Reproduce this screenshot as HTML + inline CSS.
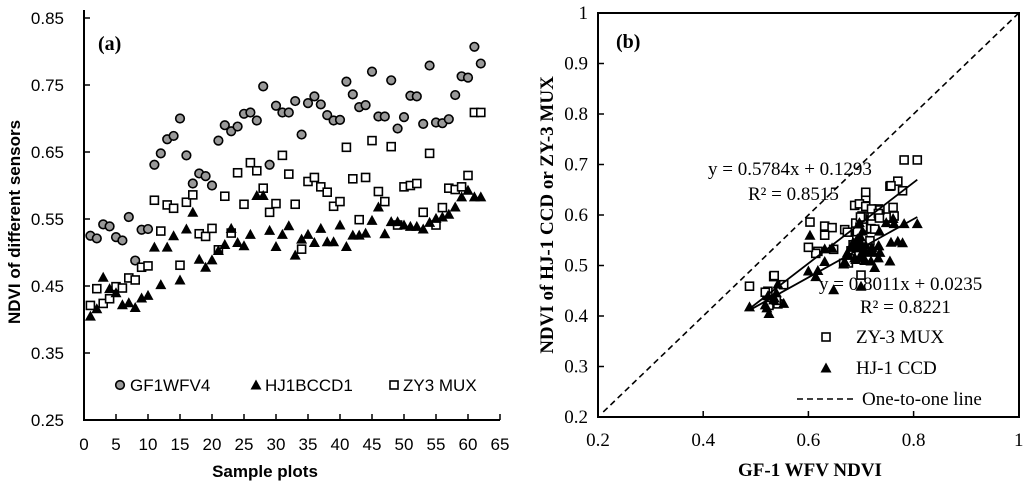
<!DOCTYPE html>
<html><head><meta charset="utf-8"><style>
body{margin:0;background:#fff;}
svg{display:block;}
.sans{font-family:"Liberation Sans",Arial,sans-serif;}
.serif{font-family:"Liberation Serif","Times New Roman",serif;}
</style></head><body>
<svg id="fig" width="1024" height="484" viewBox="0 0 1024 484" xmlns="http://www.w3.org/2000/svg">
<g id="pa"></g>
<g id="pb"></g>
</svg>
<script>
const plots = Array.from({length:62},(_,i)=>i+1);
const gf1 = [0.525,0.521,0.542,0.539,0.523,0.518,0.553,0.488,0.534,0.535,0.631,0.648,0.669,0.674,0.700,0.645,0.603,0.618,0.614,0.600,0.667,0.690,0.681,0.688,0.707,0.709,0.697,0.748,0.631,0.719,0.709,0.709,0.726,0.676,0.723,0.733,0.721,0.705,0.697,0.698,0.755,0.736,0.717,0.720,0.770,0.703,0.703,0.757,0.685,0.702,0.734,0.733,0.692,0.779,0.694,0.693,0.699,0.735,0.763,0.761,0.807,0.782];
const zy3 = [0.421,0.446,0.424,0.431,0.449,0.447,0.462,0.459,0.478,0.480,0.578,0.532,0.571,0.566,0.481,0.575,0.586,0.528,0.524,0.536,0.504,0.584,0.529,0.619,0.572,0.634,0.622,0.596,0.560,0.573,0.645,0.617,0.572,0.505,0.606,0.612,0.598,0.590,0.569,0.576,0.657,0.610,0.549,0.612,0.667,0.591,0.576,0.658,0.541,0.598,0.600,0.603,0.560,0.648,0.541,0.567,0.596,0.594,0.598,0.615,0.709,0.709];
const hj1 = [0.405,0.416,0.463,0.446,0.440,0.422,0.425,0.418,0.432,0.436,0.508,0.452,0.508,0.525,0.459,0.535,0.560,0.490,0.478,0.489,0.503,0.512,0.536,0.515,0.510,0.527,0.585,0.585,0.533,0.509,0.527,0.540,0.496,0.520,0.527,0.515,0.536,0.516,0.516,0.541,0.509,0.526,0.526,0.529,0.548,0.568,0.528,0.546,0.546,0.541,0.539,0.539,0.535,0.545,0.551,0.553,0.557,0.568,0.583,0.593,0.583,0.583];
const xTicksA = [0,5,10,15,20,25,30,35,40,45,50,55,60,65];
const yTicksA = [0.25,0.35,0.45,0.55,0.65,0.75,0.85];
const ticksB = [0.2,0.4,0.6,0.8,1];
const yTicksB = [0.2,0.3,0.4,0.5,0.6,0.7,0.8,0.9,1];
const fitZY = [0.8011,0.0235];
const fitHJ = [0.5784,0.1293];

const NS="http://www.w3.org/2000/svg";
function mk(parent,tag,attrs,text){const e=document.createElementNS(NS,tag);for(const k in attrs)e.setAttribute(k,attrs[k]);if(text!==undefined)e.textContent=text;parent.appendChild(e);return e;}
function circle(g,x,y){const e=mk(g,'circle',{cx:x,cy:y,r:4.3,fill:'#999',stroke:'#000','stroke-width':1.6});return e;}
function square(g,x,y){const e=mk(g,'rect',{x:x-4,y:y-4,width:8,height:8,fill:'#fff',stroke:'#000','stroke-width':1.6});return e;}
function tri(g,x,y){const e=mk(g,'polygon',{points:`${x-5.5},${y+4.5} ${x+5.5},${y+4.5} ${x},${y-5.5}`,fill:'#000'});return e;}

// Panel A
const A=document.getElementById('pa');
const ax=v=>84+v*6.4, ay=v=>420-(v-0.25)*670;
let e;
e=mk(A,'path',{d:`M84,${ay(0.85)-8} V420 H500`,stroke:'#000','stroke-width':2,fill:'none'});

xTicksA.forEach(t=>{if(t>0)mk(A,'line',{x1:ax(t),x2:ax(t),y1:420,y2:414,stroke:'#000','stroke-width':1.5});
 e=mk(A,'text',{x:ax(t),y:450,'text-anchor':'middle','font-size':17,class:'sans'},String(t));
 });
yTicksA.forEach(t=>{mk(A,'line',{x1:84,x2:90,y1:ay(t),y2:ay(t),stroke:'#000','stroke-width':1.5});
 e=mk(A,'text',{x:64,y:ay(t)+6,'text-anchor':'end','font-size':17,class:'sans'},t.toFixed(2));
 });
const gA=mk(A,'g',{});
plots.forEach((p,i)=>circle(gA,ax(p),ay(gf1[i])));
plots.forEach((p,i)=>square(gA,ax(p),ay(zy3[i])));
plots.forEach((p,i)=>tri(gA,ax(p),ay(hj1[i])));
e=mk(A,'text',{x:98,y:50,'font-size':20,'font-weight':'bold',class:'serif'},'(a)');

e=mk(A,'text',{x:265,y:477,'text-anchor':'middle','font-size':17,'font-weight':'bold',class:'sans'},'Sample plots');

e=mk(A,'text',{x:0,y:0,transform:'translate(20,222) rotate(-90)','text-anchor':'middle','font-size':17,'font-weight':'bold',class:'sans'},'NDVI of different sensors');

const lg=mk(A,'g',{});
circle(lg,120,385);e=mk(lg,'text',{x:130,y:391,'font-size':17,class:'sans'},'GF1WFV4');
tri(lg,256,385);e=mk(lg,'text',{x:265,y:391,'font-size':17,class:'sans'},'HJ1BCCD1');
square(lg,394,385);e=mk(lg,'text',{x:403,y:391,'font-size':17,class:'sans'},'ZY3 MUX');

// Panel B
const B=document.getElementById('pb');
const bx=v=>598+(v-0.2)*526, by=v=>417-(v-0.2)*505;
e=mk(B,'rect',{x:598,y:13,width:421,height:404,fill:'none',stroke:'#000','stroke-width':2});

ticksB.forEach(t=>{mk(B,'line',{x1:bx(t),x2:bx(t),y1:417,y2:411,stroke:'#000','stroke-width':1.5});
 e=mk(B,'text',{x:bx(t),y:446,'text-anchor':'middle','font-size':19,class:'serif'},String(t));
 });
yTicksB.forEach(t=>{mk(B,'line',{x1:598,x2:604,y1:by(t),y2:by(t),stroke:'#000','stroke-width':1.5});
 e=mk(B,'text',{x:588,y:by(t)+6,'text-anchor':'end','font-size':19,class:'serif'},String(t));
 });
e=mk(B,'line',{x1:bx(0.21),y1:by(0.21),x2:bx(1),y2:by(1),stroke:'#000','stroke-width':1.6,'stroke-dasharray':'6,4'});

const gB=mk(B,'g',{});
plots.forEach((p,i)=>square(gB,bx(gf1[i]),by(zy3[i])));
plots.forEach((p,i)=>tri(gB,bx(gf1[i]),by(hj1[i])));
const x0=Math.min(...gf1), x1=Math.max(...gf1);
e=mk(B,'line',{x1:bx(x0),y1:by(fitZY[0]*x0+fitZY[1]),x2:bx(x1),y2:by(fitZY[0]*x1+fitZY[1]),stroke:'#000','stroke-width':1.8});

e=mk(B,'line',{x1:bx(x0),y1:by(fitHJ[0]*x0+fitHJ[1]),x2:bx(x1),y2:by(fitHJ[0]*x1+fitHJ[1]),stroke:'#000','stroke-width':1.8});

e=mk(B,'text',{x:708,y:175,'font-size':19,class:'serif'},'y = 0.5784x + 0.1293');
e=mk(B,'text',{x:748,y:200,'font-size':19,class:'serif'},'R² = 0.8515');
e=mk(B,'text',{x:819,y:290,'font-size':19,class:'serif'},'y = 0.8011x + 0.0235');
e=mk(B,'text',{x:860,y:313,'font-size':19,class:'serif'},'R² = 0.8221');
e=mk(B,'text',{x:616,y:48,'font-size':20,'font-weight':'bold',class:'serif'},'(b)');
e=mk(B,'text',{x:810,y:476,'text-anchor':'middle','font-size':19,'font-weight':'bold',class:'serif'},'GF-1 WFV NDVI');
e=mk(B,'text',{x:0,y:0,transform:'translate(553,215) rotate(-90)','text-anchor':'middle','font-size':19,'font-weight':'bold',class:'serif'},'NDVI of HJ-1 CCD or ZY-3 MUX');
const lb=mk(B,'g',{});
square(lb,826,337);e=mk(lb,'text',{x:856,y:343,'font-size':19,class:'serif'},'ZY-3 MUX');
tri(lb,826,368);e=mk(lb,'text',{x:856,y:374,'font-size':19,class:'serif'},'HJ-1 CCD');
mk(lb,'line',{x1:797,x2:854,y1:399,y2:399,stroke:'#000','stroke-width':1.6,'stroke-dasharray':'6,4'});
e=mk(lb,'text',{x:862,y:405,'font-size':19,class:'serif'},'One-to-one line');
</script>
</body></html>
